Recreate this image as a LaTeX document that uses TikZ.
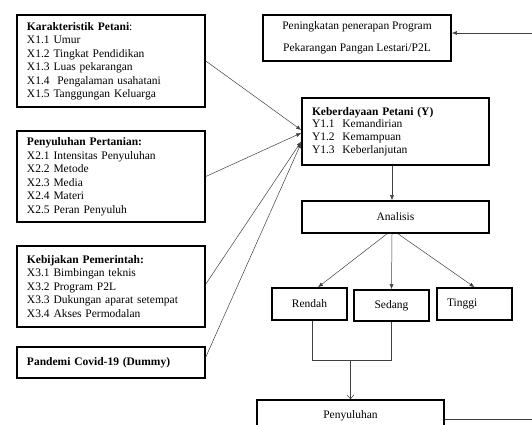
\documentclass[tikz,border=0pt]{standalone}
\usepackage{fontspec}
\setmainfont{Liberation Serif}
\usetikzlibrary{arrows.meta}

\begin{document}
\begin{tikzpicture}[x=1pt,y=-1pt,
  box/.style={draw,line width=1.6pt,inner sep=0pt,font=\fontsize{11.5}{13.5}\selectfont},
  listbox/.style={box,align=left,text width=168pt,inner xsep=10pt},
  link/.style={line width=0.5pt,draw=black!75},
  tip/.style={link,-{Latex[length=5pt,width=4pt]}}]
\useasboundingbox (0,0) rectangle (532,424);
\clip (0,0) rectangle (532,424);

\node[listbox,minimum height=92pt] (kar) at (111,61) {\textbf{Karakteristik Petani}:\\X1.1 Umur\\X1.2 Tingkat Pendidikan\\X1.3 Luas pekarangan\\X1.4\ \ Pengalaman usahatani\\X1.5 Tanggungan Keluarga};
\node[listbox,minimum height=91pt] (pen) at (111,176.5) {\textbf{Penyuluhan Pertanian:}\\X2.1 Intensitas Penyuluhan\\X2.2 Metode\\X2.3 Media\\X2.4 Materi\\X2.5 Peran Penyuluh};
\node[listbox,minimum height=81pt] (kbj) at (111,286.5) {\textbf{Kebijakan Pemerintah:}\\X3.1 Bimbingan teknis\\X3.2 Program P2L\\X3.3 Dukungan aparat setempat\\X3.4 Akses Permodalan};
\node[listbox,minimum height=31pt] (cov) at (111,362.5) {\textbf{Pandemi Covid-19 (Dummy)}};

\node[box,align=center,minimum width=188pt,minimum height=46pt,font=\fontsize{11.5}{22}\selectfont] (p2l) at (357,38) {Peningkatan penerapan Program\\Pekarangan Pangan Lestari/P2L};
\node[box,align=left,text width=167pt,inner xsep=10pt,minimum height=67pt,font=\fontsize{11.5}{12.7}\selectfont] (ky) at (395.5,131.5) {\textbf{Keberdayaan Petani (Y)}\\Y1.1\ \ Kemandirian\\Y1.2\ \ Kemampuan\\Y1.3\ \ Keberlanjutan};
\node[box,minimum width=187pt,minimum height=32pt] (an) at (395.5,217) {Analisis};
\node[box,minimum width=75pt,minimum height=32pt] (rd) at (309.5,304) {Rendah};
\node[box,minimum width=75pt,minimum height=31pt] (sd) at (391.5,305.5) {Sedang};
\node[box,align=left,text width=55pt,inner xsep=10pt,minimum height=32pt] (tg) at (474.5,304) {Tinggi};
\node[box,minimum width=187pt,minimum height=32pt] (py) at (350.5,416) {Penyuluhan};

\draw[tip] (kar.east) -- ([yshift=1.5pt]ky.west);
\draw[tip] (pen.east) -- ([yshift=-1.5pt]ky.west);
\draw[tip] ([yshift=2.5pt]kbj.east) -- ([yshift=-10pt]ky.west);
\draw[tip] ([yshift=5.5pt]cov.east) -- ([yshift=-11.5pt]ky.west);

\draw[tip] ([xshift=-3.5pt]ky.south) -- ([xshift=-3.5pt]an.north);
\draw[tip] ([xshift=-8.5pt]an.south) -- ([xshift=8.5pt]rd.north);
\draw[tip] ([xshift=-3.5pt]an.south) -- (sd.north);
\draw[tip] ([xshift=2.5pt]an.south) -- (tg.north);

\coordinate (mrg) at (350.5,360);
\draw[link] ([xshift=2.5pt]rd.south) |- (mrg) -| (sd.south);
\draw[link,-{Straight Barb[length=4pt,width=7pt]}] (mrg) -- (py.north);

\coordinate (rt) at (548,33);
\draw[tip] ([yshift=-3pt]py.east) -| (rt) |- ([yshift=5pt]p2l.east);
\end{tikzpicture}
\end{document}
